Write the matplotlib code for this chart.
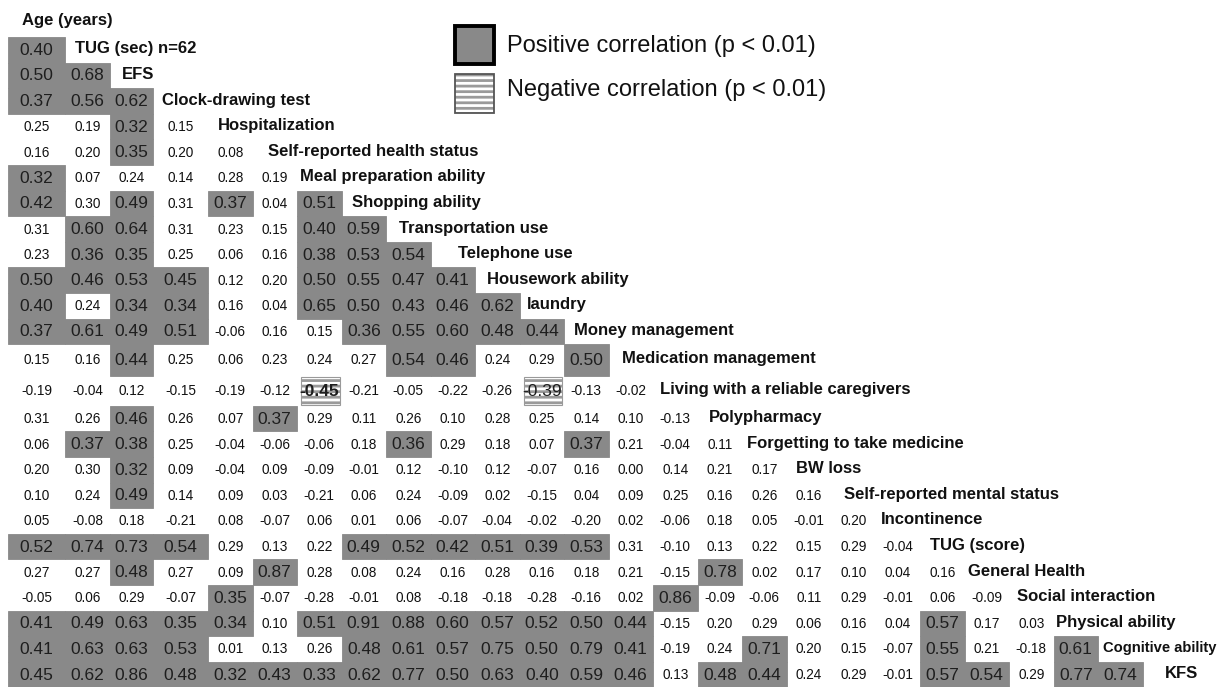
import numpy as np
import matplotlib
matplotlib.use("Agg")
import matplotlib.pyplot as plt
from matplotlib.patches import Rectangle

plt.rcParams['font.family'] = ['Liberation Sans', 'DejaVu Sans']
plt.rcParams['hatch.linewidth'] = 2.0

header = "Age (years)"
labels = [
    "TUG (sec) n=62", "EFS", "Clock-drawing test", "Hospitalization",
    "Self-reported health status", "Meal preparation ability", "Shopping ability",
    "Transportation use", "Telephone use", "Housework ability", "laundry",
    "Money management", "Medication management", "Living with a reliable caregivers",
    "Polypharmacy", "Forgetting to take medicine", "BW loss",
    "Self-reported mental status", "Incontinence", "TUG (score)", "General Health",
    "Social interaction", "Physical ability", "Cognitive ability", "KFS",
]

# lower triangle, row i has i+1 values
r_tug = [0.40]
r_efs = [0.50, 0.68]
r_clock = [0.37, 0.56, 0.62]
r_hosp = [0.25, 0.19, 0.32, 0.15]
r_health = [0.16, 0.20, 0.35, 0.20, 0.08]
r_meal = [0.32, 0.07, 0.24, 0.14, 0.28, 0.19]
r_shop = [0.42, 0.30, 0.49, 0.31, 0.37, 0.04, 0.51]
r_trans = [0.31, 0.60, 0.64, 0.31, 0.23, 0.15, 0.40, 0.59]
r_phone = [0.23, 0.36, 0.35, 0.25, 0.06, 0.16, 0.38, 0.53, 0.54]
r_house = [0.50, 0.46, 0.53, 0.45, 0.12, 0.20, 0.50, 0.55, 0.47, 0.41]
r_laundry = [0.40, 0.24, 0.34, 0.34, 0.16, 0.04, 0.65, 0.50, 0.43, 0.46, 0.62]
r_money = [0.37, 0.61, 0.49, 0.51, -0.06, 0.16, 0.15, 0.36, 0.55, 0.60, 0.48, 0.44]
r_medic = [0.15, 0.16, 0.44, 0.25, 0.06, 0.23, 0.24, 0.27, 0.54, 0.46, 0.24, 0.29, 0.50]
r_living = [-0.19, -0.04, 0.12, -0.15, -0.19, -0.12, -0.45, -0.21, -0.05, -0.22,
            -0.26, -0.39, -0.13, -0.02]
r_poly = [0.31, 0.26, 0.46, 0.26, 0.07, 0.37, 0.29, 0.11, 0.26, 0.10, 0.28, 0.25,
          0.14, 0.10, -0.13]
r_forget = [0.06, 0.37, 0.38, 0.25, -0.04, -0.06, -0.06, 0.18, 0.36, 0.29, 0.18,
            0.07, 0.37, 0.21, -0.04, 0.11]
r_bw = [0.20, 0.30, 0.32, 0.09, -0.04, 0.09, -0.09, -0.01, 0.12, -0.10, 0.12,
        -0.07, 0.16, 0.00, 0.14, 0.21, 0.17]
r_mental = [0.10, 0.24, 0.49, 0.14, 0.09, 0.03, -0.21, 0.06, 0.24, -0.09, 0.02,
            -0.15, 0.04, 0.09, 0.25, 0.16, 0.26, 0.16]
r_incont = [0.05, -0.08, 0.18, -0.21, 0.08, -0.07, 0.06, 0.01, 0.06, -0.07, -0.04,
            -0.02, -0.20, 0.02, -0.06, 0.18, 0.05, -0.01, 0.20]
r_tugs = [0.52, 0.74, 0.73, 0.54, 0.29, 0.13, 0.22, 0.49, 0.52, 0.42, 0.51, 0.39,
          0.53, 0.31, -0.10, 0.13, 0.22, 0.15, 0.29, -0.04]
r_general = [0.27, 0.27, 0.48, 0.27, 0.09, 0.87, 0.28, 0.08, 0.24, 0.16, 0.28, 0.16,
             0.18, 0.21, -0.15, 0.78, 0.02, 0.17, 0.10, 0.04, 0.16]
r_social = [-0.05, 0.06, 0.29, -0.07, 0.35, -0.07, -0.28, -0.01, 0.08, -0.18, -0.18,
            -0.28, -0.16, 0.02, 0.86, -0.09, -0.06, 0.11, 0.29, -0.01, 0.06, -0.09]
r_phys = [0.41, 0.49, 0.63, 0.35, 0.34, 0.10, 0.51, 0.91, 0.88, 0.60, 0.57, 0.52,
          0.50, 0.44, -0.15, 0.20, 0.29, 0.06, 0.16, 0.04, 0.57, 0.17, 0.03]
r_cogn = [0.41, 0.63, 0.63, 0.53, 0.01, 0.13, 0.26, 0.48, 0.61, 0.57, 0.75, 0.50,
          0.79, 0.41, -0.19, 0.24, 0.71, 0.20, 0.15, -0.07, 0.55, 0.21, -0.18, 0.61]
r_kfs = [0.45, 0.62, 0.86, 0.48, 0.32, 0.43, 0.33, 0.62, 0.77, 0.50, 0.63, 0.40,
         0.59, 0.46, 0.13, 0.48, 0.44, 0.24, 0.29, -0.01, 0.57, 0.54, 0.29, 0.77, 0.74]

rows = [r_tug, r_efs, r_clock, r_hosp, r_health, r_meal, r_shop, r_trans, r_phone,
        r_house, r_laundry, r_money, r_medic, r_living, r_poly, r_forget, r_bw,
        r_mental, r_incont, r_tugs, r_general, r_social, r_phys, r_cogn, r_kfs]

crit_r = 0.32          # |r| for p < 0.01, n=62
bold_cells = [(13, 6)]

# layout (pixels)
W, H = 1224, 687
col_w = [57, 45, 43, 55] + [44.5] * 21
row_h = [25.6] * 25
row_h[12] = 31.5
row_h[13] = 30
x0, y0 = 8, 37
xs = x0 + np.concatenate([[0], np.cumsum(col_w)])
ys = y0 + np.concatenate([[0], np.cumsum(row_h)])
label_pad = [10, 12, 9, 10, 15, 3, 10, 13, 28, 12, 7, 10, 14, 7, 11, 5, 10, 13, 5,
             10, 4, 8, 3, 5, 22]
label_size = [12] * 25
label_size[23] = 10.6

gray = '#898989'
stripe = '#9a9a9a'

fig = plt.figure(figsize=(W / 100, H / 100), dpi=100)
ax = fig.add_axes([0, 0, 1, 1])
ax.set_xlim(0, W)
ax.set_ylim(H, 0)
ax.axis('off')

for i, vals in enumerate(rows):
    top, bot = ys[i], ys[i + 1]
    yc = (top + bot) / 2
    for j, v in enumerate(vals):
        left, right = xs[j], xs[j + 1]
        xc = (left + right) / 2
        big = abs(v) >= crit_r
        if v >= crit_r:
            ax.add_patch(Rectangle((left, top), right - left, bot - top,
                                   facecolor=gray, edgecolor=gray, lw=0.6))
        elif v <= -crit_r:
            ax.add_patch(Rectangle((left + 4, top + 1), right - left - 6, bot - top - 2,
                                   facecolor='white', edgecolor=stripe,
                                   hatch='---', lw=0.8))
        weight = 'bold' if (i, j) in bold_cells else 'normal'
        ax.text(xc, yc + 0.5, f"{v:.2f}", ha='center', va='center',
                fontsize=12.5 if big else 9.8, color='#1e1e1e' if big else '#111111',
                fontweight=weight)
    ax.text(xs[i + 1] + label_pad[i], yc - 1, labels[i], ha='left', va='center',
            fontsize=label_size[i], fontweight='bold', color='#111111')

ax.text(x0 + 14, 20, header, ha='left', va='center', fontsize=12,
        fontweight='bold', color='#111111')

# legend
ax.add_patch(Rectangle((455, 26), 39, 38, facecolor=gray, edgecolor='black', lw=2.8))
ax.add_patch(Rectangle((455, 74), 39, 39, facecolor='white', edgecolor=stripe,
                       hatch='---', lw=0))
ax.add_patch(Rectangle((455, 74), 39, 39, facecolor='none', edgecolor='#555555',
                       lw=1.3))
ax.text(507, 46, "Positive correlation (p < 0.01)", ha='left', va='center',
        fontsize=17, color='#111111')
ax.text(507, 90, "Negative correlation (p < 0.01)", ha='left', va='center',
        fontsize=17, color='#111111')

fig.savefig('out.png', dpi=100, facecolor='white')
